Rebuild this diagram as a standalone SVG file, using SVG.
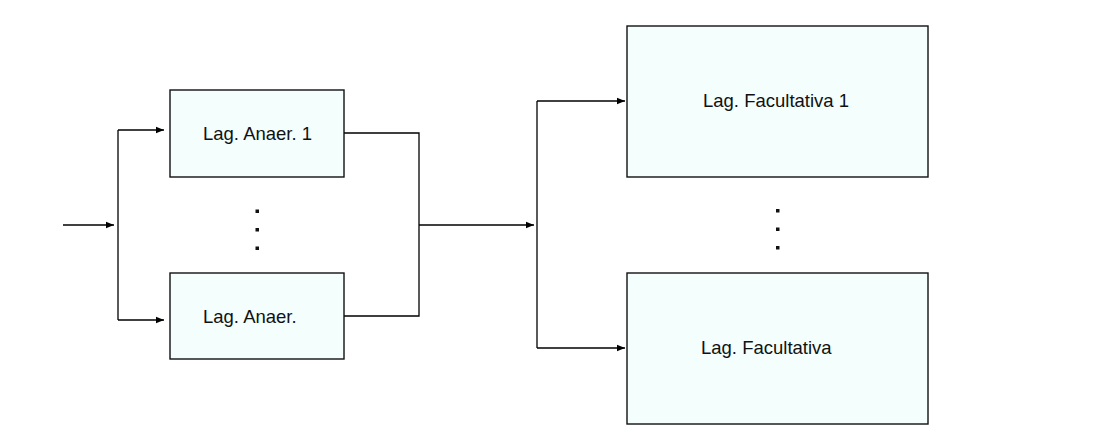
<svg xmlns="http://www.w3.org/2000/svg" width="1100" height="440" viewBox="0 0 1100 440">
  <style>
    .box { fill: #F3FEFD; stroke: #111; stroke-width: 1.4; }
    .lbl { font-family: "Liberation Sans", Arial, sans-serif; font-size: 18.5px; fill: #111; }
    .wire { fill: none; stroke: #000; stroke-width: 1.3; }
    .dot { fill: #111; }
  </style>
  <defs>
    <marker id="arrow" viewBox="0 0 8 8" refX="8" refY="4" markerWidth="8" markerHeight="8" markerUnits="userSpaceOnUse" orient="auto">
      <path d="M0,0.8 L8,4 L0,7.2 Z" fill="#000"/>
    </marker>
  </defs>

  <!-- connectors -->
  <g id="connectors">
    <!-- inflow -->
    <path class="wire" d="M63,225 H114" marker-end="url(#arrow)"/>
    <!-- split to anaerobic ponds -->
    <path class="wire" d="M118,130 V320"/>
    <path class="wire" d="M118,130 H164" marker-end="url(#arrow)"/>
    <path class="wire" d="M118,320 H164" marker-end="url(#arrow)"/>
    <!-- merge from anaerobic ponds -->
    <path class="wire" d="M344,133 H419 V316 H344"/>
    <path class="wire" d="M419,225 H534" marker-end="url(#arrow)"/>
    <!-- split to facultative ponds -->
    <path class="wire" d="M537,101 V348"/>
    <path class="wire" d="M537,101 H625" marker-end="url(#arrow)"/>
    <path class="wire" d="M537,348 H625" marker-end="url(#arrow)"/>
  </g>

  <g id="anaer1">
    <rect class="box" x="170" y="90" width="174" height="87"/>
    <text class="lbl" x="203" y="140">Lag. Anaer. 1</text>
  </g>

  <g id="anaer-dots">
    <rect class="dot" x="255.5" y="209.5" width="3.5" height="3.5"/>
    <rect class="dot" x="255.5" y="228" width="3.5" height="3.5"/>
    <rect class="dot" x="255.5" y="246.5" width="3.5" height="3.5"/>
  </g>

  <g id="anaerN">
    <rect class="box" x="170" y="273" width="174" height="86"/>
    <text class="lbl" x="203" y="323">Lag. Anaer.</text>
  </g>

  <g id="facult1">
    <rect class="box" x="627" y="26" width="301" height="151"/>
    <text class="lbl" x="703" y="107">Lag. Facultativa 1</text>
  </g>

  <g id="facult-dots">
    <rect class="dot" x="776" y="209" width="3.5" height="3.5"/>
    <rect class="dot" x="776" y="227.5" width="3.5" height="3.5"/>
    <rect class="dot" x="776" y="246" width="3.5" height="3.5"/>
  </g>

  <g id="facultN">
    <rect class="box" x="627" y="273" width="301" height="151"/>
    <text class="lbl" x="701" y="354">Lag. Facultativa</text>
  </g>
</svg>
